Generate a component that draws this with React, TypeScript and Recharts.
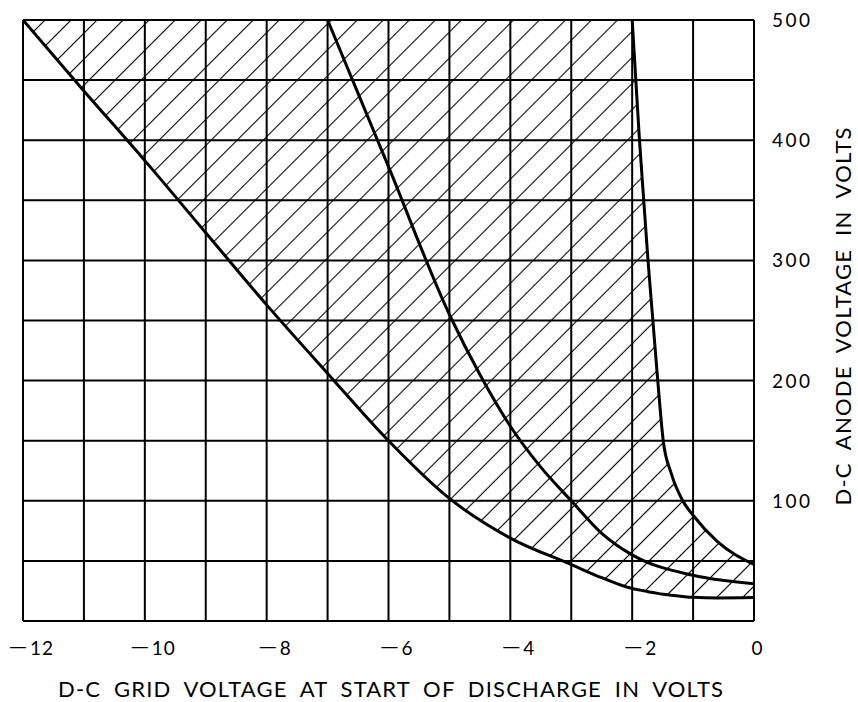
import { Area, CartesianGrid, ComposedChart, Line, XAxis, YAxis } from 'recharts';

// grid voltage (x) and anode voltage (y)
const lowerVolts = [-12, -11, -10, -9, -8, -7, -6, -5, -4, -3, -2.5, -2, -1.94, -1.88, -1.81, -1.74, -1.66, -1.58, -1.49, -1.36, -1.17, -1, -0.6, 0];
const lowerAnode = [500, 441, 383, 323, 263, 206, 150, 102, 69, 47, 36, 27, 26.4, 25.8, 25.1, 24.4, 23.7, 23, 22.3, 21.4, 20.4, 19.7, 19.2, 19.5];

const middleVolts = [-7, -6, -5, -4.5, -4, -3.5, -3, -2.5, -2, -1, 0];
const middleAnode = [500, 378, 255, 205, 162, 128, 100, 73, 55, 38, 31];

const upperVolts = [-2, -1.94, -1.88, -1.81, -1.74, -1.66, -1.58, -1.49, -1.36, -1.17, -1, -0.6, 0];
const upperAnode = [500, 450, 400, 350, 300, 250, 200, 150, 123, 100, 88, 66, 47];

const xTicks = [-12, -11, -10, -9, -8, -7, -6, -5, -4, -3, -2, -1, 0];
const yTicks = [0, 50, 100, 150, 200, 250, 300, 350, 400, 450, 500];
const yMax = 500;

const xTitle = 'D-C GRID VOLTAGE AT START OF DISCHARGE IN VOLTS';
const yTitle = 'D-C ANODE VOLTAGE IN VOLTS';

const FONT = 'Lato, "Open Sans", sans-serif';

const lowerData = lowerVolts.map((v, i) => ({ v, a: lowerAnode[i] }));
const middleData = middleVolts.map((v, i) => ({ v, a: middleAnode[i] }));
const upperData = upperVolts.map((v, i) => ({ v, a: upperAnode[i] }));

// shaded band: above the lower curve, below the right-hand curve (or the top)
const bandData = lowerVolts.map((v, i) => {
  const j = upperVolts.indexOf(v);
  return { v, band: [lowerAnode[i], j >= 0 ? upperAnode[j] : yMax] };
});

function XTick(props: any) {
  const { x, y, payload } = props;
  const v = payload.value;
  if (v % 2 !== 0) return <g />;
  if (v === 0) {
    return (
      <text x={x + 3} y={y + 34} textAnchor="middle" fontFamily={FONT} fontSize={19} fill="#000">
        0
      </text>
    );
  }
  // long dash as the minus sign, like the original print
  return (
    <text x={x + 9} y={y + 34} textAnchor="middle" fontFamily={FONT} fontSize={19} letterSpacing={1} fill="#000">
      <tspan fontFamily="'Liberation Sans', sans-serif" fontSize={16} dy={-3}>{'\u2014'}</tspan>
      <tspan dx={3} dy={3}>{Math.abs(v)}</tspan>
    </text>
  );
}

function YTick(props: any) {
  const { x, y, payload } = props;
  const v = payload.value;
  if (v % 100 !== 0 || v === 0) return <g />;
  return (
    <text x={x + 18} y={y + 7} textAnchor="start" fontFamily={FONT} fontSize={19} letterSpacing={2.5} fill="#000">
      {v}
    </text>
  );
}

function XTitle(props: any) {
  const { x, y, width } = props.viewBox;
  return (
    <text x={x + width / 2 + 2} y={y + 76} textAnchor="middle" fontFamily={FONT} fontSize={22}
      textLength={665} lengthAdjust="spacing" wordSpacing={6} fill="#000">
      {xTitle}
    </text>
  );
}

function YTitle(props: any) {
  const { x, y, height } = props.viewBox;
  const cx = x + 97;
  const cy = y + height / 2 - 4;
  return (
    <text x={cx} y={cy} transform={`rotate(-90 ${cx} ${cy})`} textAnchor="middle" fontFamily={FONT} fontSize={22}
      textLength={378} lengthAdjust="spacing" wordSpacing={6} fill="#000">
      {yTitle}
    </text>
  );
}

export default function App() {
  return (
    <div style={{ position: 'absolute', left: 0, top: 0, width: 858, height: 702, background: '#fff' }}>
      <ComposedChart width={858} height={702} margin={{ top: 20, right: 0, bottom: 0, left: 23 }}>
        <defs>
          <pattern id="hatch" patternUnits="userSpaceOnUse" width={18.4} height={18.4} patternTransform="rotate(45)">
            <line x1={9.2} y1={0} x2={9.2} y2={18.4} stroke="#000" strokeWidth={1.1} />
          </pattern>
        </defs>
        <XAxis
          type="number"
          dataKey="v"
          domain={[-12, 0]}
          ticks={xTicks}
          interval={0}
          allowDataOverflow
          height={81}
          axisLine={false}
          tickLine={false}
          tickSize={0}
          tickMargin={0}
          tick={<XTick />}
          label={<XTitle />}
        />
        <YAxis
          type="number"
          orientation="right"
          domain={[0, yMax]}
          ticks={yTicks}
          interval={0}
          allowDataOverflow
          width={104}
          axisLine={false}
          tickLine={false}
          tickSize={0}
          tickMargin={0}
          tick={<YTick />}
          label={<YTitle />}
        />
        <Area data={bandData} dataKey="band" type="monotone" stroke="none" fill="url(#hatch)" fillOpacity={1} isAnimationActive={false} />
        <CartesianGrid stroke="#000" strokeWidth={2} strokeOpacity={1} />
        <Line data={lowerData} dataKey="a" type="monotone" stroke="#000" strokeWidth={3} dot={false} activeDot={false} isAnimationActive={false} />
        <Line data={middleData} dataKey="a" type="monotone" stroke="#000" strokeWidth={3} dot={false} activeDot={false} isAnimationActive={false} />
        <Line data={upperData} dataKey="a" type="monotone" stroke="#000" strokeWidth={3} dot={false} activeDot={false} isAnimationActive={false} />
      </ComposedChart>
    </div>
  );
}
